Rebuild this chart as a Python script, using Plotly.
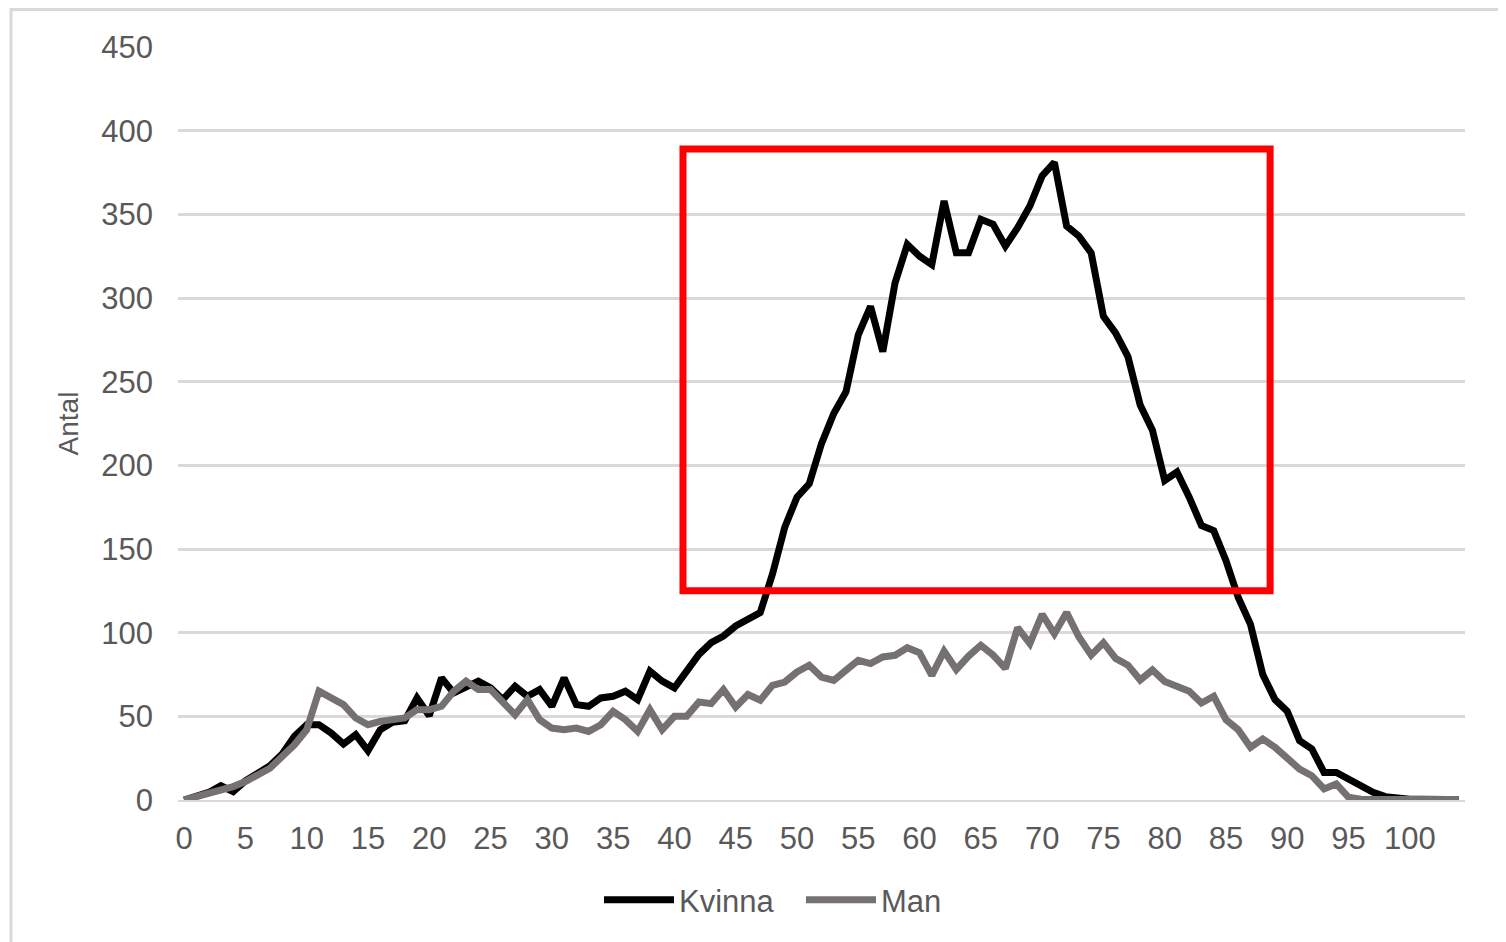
import plotly.graph_objects as go

ages = list(range(0, 105))

kvinna = [0, 2.5, 4.5, 8.5, 5, 11.5, 15.5, 20.5, 27.5, 38,
          45, 45, 40, 33.5, 39, 29.5, 42, 46.4, 47.4, 61,
          50.4, 73, 64, 68, 71, 67, 60, 68, 62, 66,
          56, 73, 57, 56, 61, 62, 65, 60, 77, 71,
          67, 77, 87, 94, 98, 104, 108, 112, 135, 163,
          181, 189, 213, 231, 244, 278, 295, 268, 309, 332,
          325, 320, 358, 327, 327, 347, 344, 331, 342, 355,
          373, 381, 343, 337, 327, 289, 279, 265, 236, 221,
          191, 196, 181, 164, 161, 143, 121, 105, 75, 60,
          53, 35.5, 30.5, 16.5, 16.5, 12.5, 8.6, 4.6, 2, 1,
          0.5, 0.5, 0.7, 0.3, 0]

man = [0, 2, 3.5, 5, 8, 11, 15, 19, 26, 33,
       42, 65, 61, 57, 49, 45, 47, 48, 49, 54,
       54, 56, 65, 71, 66, 66, 58, 51, 60, 48,
       43, 42, 43, 41, 45, 53, 48, 41, 54, 42,
       50, 50, 58.6, 57.6, 66, 55.6, 63, 59.6, 68.5, 70.5,
       76.5, 80.5, 73.5, 71.5, 77.5, 83.5, 81.5, 85.5, 86.5, 91,
       88, 74.5, 89, 78, 86, 92.5, 86.6, 78.6, 103, 93.5,
       111, 99.4, 112, 97.4, 86.6, 94, 84.6, 80.6, 71.7, 77.7,
       70.8, 68, 65, 58, 62, 48, 42, 31.5, 36.5, 31.5,
       24.5, 18.5, 14.5, 6.6, 9.6, 1.6, 0.5, 0.3, 0.3, 0.5,
       0.3, 0.3, 0.3, 0.3, 0.3]

series_names = ["Kvinna", "Man"]
y_title = "Antal"
y_ticks = [0, 50, 100, 150, 200, 250, 300, 350, 400, 450]

# highlighted region (data coordinates)
box_x = [40.7, 88.6]
box_y = [125, 389]

W, H = 1498, 934
ML, MR, MT, MB = 170, 41, 39, 142
pw = W - ML - MR
ph = H - MT - MB

FONT = "Liberation Sans, Arial, sans-serif"
TXT = "#595959"
GRID = "#d9d9d9"

fig = go.Figure()
fig.add_trace(go.Scatter(x=ages, y=kvinna, mode="lines", name=series_names[0],
                         line=dict(color="#000000", width=7, shape="linear")))
fig.add_trace(go.Scatter(x=ages, y=man, mode="lines", name=series_names[1],
                         line=dict(color="#767171", width=7, shape="linear")))

fig.add_shape(type="rect", xref="x", yref="y",
              x0=box_x[0], x1=box_x[1], y0=box_y[0], y1=box_y[1],
              line=dict(color="#ff0000", width=7), fillcolor="rgba(0,0,0,0)")

# outer chart frame (figure pixel -> paper)
def px2x(p):
    return (p - ML) / pw

def px2y(p):
    return (H - MB - p) / ph

fig.add_shape(type="rect", xref="paper", yref="paper",
              x0=px2x(3), x1=px2x(W + 10), y0=px2y(H + 10), y1=px2y(1.5),
              line=dict(color=GRID, width=3), fillcolor="rgba(0,0,0,0)", layer="below")

fig.update_layout(
    width=W, height=H,
    margin=dict(l=ML, r=MR, t=MT, b=MB, autoexpand=False),
    paper_bgcolor="white", plot_bgcolor="white",
    font=dict(family=FONT, size=31, color=TXT),
    showlegend=True,
    legend=dict(orientation="h", x=px2x(591), xanchor="left", y=px2y(892), yanchor="middle",
                font=dict(size=31, color=TXT), itemwidth=70, entrywidth=117,
                tracegroupgap=0, bgcolor="rgba(0,0,0,0)"),
    xaxis=dict(range=[-0.5, 104.5], tickmode="linear", tick0=0, dtick=5,
               showgrid=False, zeroline=False, showline=True, linecolor=GRID, linewidth=2,
               ticks="", tickfont=dict(size=31, color=TXT), ticklabelstandoff=10),
    yaxis=dict(range=[0, 450], tickvals=y_ticks, showgrid=True, gridcolor=GRID, gridwidth=2.5,
               zeroline=False, showline=False, ticks="",
               tickfont=dict(size=31, color=TXT), ticklabelstandoff=24,
               title=dict(text=y_title, font=dict(size=28, color=TXT), standoff=14)),
)

fig.write_html("out.html")
